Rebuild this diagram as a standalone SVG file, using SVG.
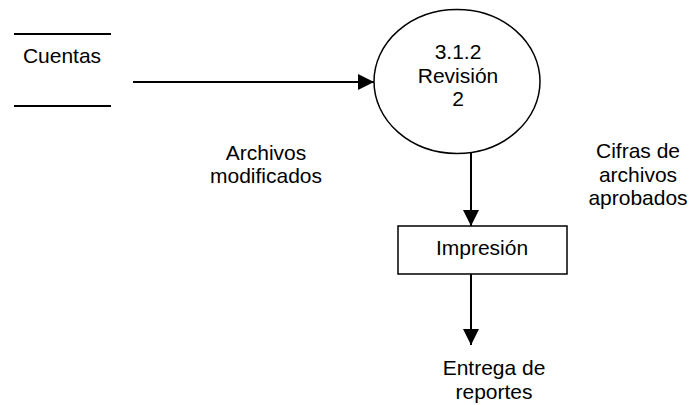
<svg xmlns="http://www.w3.org/2000/svg" width="691" height="405" viewBox="0 0 691 405">
<style>
text{font-family:"Liberation Sans",Arial,sans-serif;font-size:21px;fill:#000;text-anchor:middle}
.ln{stroke:#000;stroke-width:2;fill:none}
.sh{stroke:#000;stroke-width:1.5;fill:#fff}
</style>
<defs>
<marker id="ah" markerWidth="16" markerHeight="16" viewBox="0 0 16 16" refX="16" refY="8" orient="auto" markerUnits="userSpaceOnUse">
<path d="M0,0 L16,8 L0,16 Z" fill="#000"/>
</marker>
</defs>
<g id="cuentas">
<line class="ln" x1="14" y1="34" x2="111" y2="34"/>
<line class="ln" x1="14" y1="106" x2="111" y2="106"/>
<text x="62" y="63">Cuentas</text>
</g>
<g id="revision">
<ellipse class="sh" cx="457" cy="81.5" rx="83" ry="72"/>
<text x="458" y="59">3.1.2</text>
<text x="458" y="83">Revisión</text>
<text x="458" y="106">2</text>
</g>
<g id="impresion">
<rect class="sh" x="398" y="226" width="169" height="48"/>
<text x="482" y="255">Impresión</text>
</g>
<g id="connectors">
<line class="ln" x1="133" y1="82" x2="374" y2="82" marker-end="url(#ah)"/>
<line class="ln" x1="471" y1="152.5" x2="471" y2="226" marker-end="url(#ah)"/>
<line class="ln" x1="471" y1="274" x2="471" y2="345" marker-end="url(#ah)"/>
</g>
<g id="labels">
<text x="266" y="160">Archivos</text>
<text x="266" y="183">modificados</text>
<text x="638" y="158">Cifras de</text>
<text x="638" y="182">archivos</text>
<text x="638" y="205">aprobados</text>
<text x="494" y="375">Entrega de</text>
<text x="494" y="399">reportes</text>
</g>
</svg>
